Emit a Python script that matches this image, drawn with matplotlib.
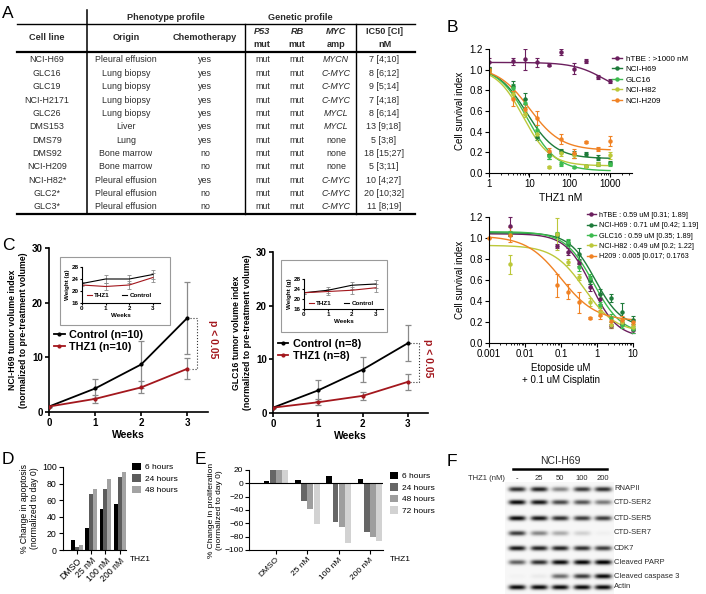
import numpy as np
import matplotlib
matplotlib.use("Agg")
import matplotlib.pyplot as plt
from matplotlib.lines import Line2D
from matplotlib.patches import Rectangle
from matplotlib.ticker import FixedLocator, FormatStrFormatter

plt.rcParams["font.family"] = ["Liberation Sans", "DejaVu Sans"]
plt.rcParams["axes.linewidth"] = 0.8

# ============================================================
# DATA
# ============================================================

# --- A: cell line table
cell_lines = ["NCI-H69", "GLC16", "GLC19", "NCI-H2171", "GLC26", "DMS153",
              "DMS79", "DMS92", "NCI-H209", "NCI-H82*", "GLC2*", "GLC3*"]
origins = ["Pleural effusion", "Lung biopsy", "Lung biopsy", "Lung biopsy",
           "Lung biopsy", "Liver", "Lung", "Bone marrow", "Bone marrow",
           "Pleural effusion", "Pleural effusion", "Pleural effusion"]
chemo = ["yes", "yes", "yes", "yes", "yes", "yes", "yes", "no", "no", "yes", "no", "no"]
p53_status = ["mut"] * 12
rb_status = ["mut"] * 12
myc_amp = ["MYCN", "C-MYC", "C-MYC", "C-MYC", "MYCL", "MYCL", "none", "none",
           "none", "C-MYC", "C-MYC", "C-MYC"]
ic50_ci = ["7 [4;10]", "8 [6;12]", "9 [5;14]", "7 [4;18]", "8 [6;14]", "13 [9;18]",
           "5 [3;8]", "18 [15;27]", "5 [3;11]", "10 [4;27]", "20 [10;32]", "11 [8;19]"]

# --- B top: THZ1 dose response
thz1_conc = [1, 3.9, 7.8, 15.6, 31.25, 62.5, 125, 250, 500, 1000]
b1_names = ["hTBE : >1000 nM", "NCI-H69", "GLC16", "NCI-H82", "NCI-H209"]
b1_htbe = [1.07, 1.08, 1.10, 1.07, 1.05, 1.17, 1.01, 1.08, 0.93, 0.89]
b1_htbe_err = [0.04, 0.03, 0.10, 0.04, 0.01, 0.03, 0.05, 0.02, 0.02, 0.02]
b1_h69 = [1.01, 0.84, 0.72, 0.35, 0.17, 0.21, 0.18, 0.18, 0.15, 0.10]
b1_h69_err = [0.02, 0.05, 0.05, 0.03, 0.03, 0.02, 0.03, 0.02, 0.02, 0.02]
b1_glc16 = [1.00, 0.82, 0.68, 0.42, 0.16, 0.09, 0.06, 0.07, 0.09, 0.09]
b1_glc16_err = [0.02, 0.04, 0.04, 0.04, 0.02, 0.02, 0.01, 0.01, 0.02, 0.02]
b1_h82 = [1.00, 0.76, 0.57, 0.38, 0.06, 0.19, 0.17, 0.07, 0.09, 0.17]
b1_h82_err = [0.02, 0.03, 0.03, 0.03, 0.01, 0.03, 0.02, 0.01, 0.02, 0.03]
b1_h209 = [1.00, 0.72, 0.62, 0.53, 0.21, 0.33, 0.19, 0.30, 0.23, 0.31]
b1_h209_err = [0.02, 0.07, 0.05, 0.07, 0.03, 0.05, 0.04, 0.01, 0.02, 0.05]
# fitted curve parameters (top, bottom, EC50, hill)
b1_fits = [(1.07, 0.75, 720, 1.15), (1.03, 0.14, 8.5, 1.2), (1.03, 0.02, 9, 1.2),
           (1.02, 0.07, 7, 1.3), (1.03, 0.22, 10, 1.1)]

# --- B bottom: etoposide + cisplatin
eto_conc = [0.0039, 0.078, 0.156, 0.3125, 0.625, 1.25, 2.5, 5, 10]
b2_names = ["hTBE : 0.59 uM [0.31; 1.89]", "NCI-H69 : 0.71 uM [0.42; 1.19]",
            "GLC16 : 0.59 uM [0.35; 1.89]", "NCI-H82 : 0.49 uM [0.2; 1.22]",
            "H209 : 0.005 [0.017; 0.1763"]
b2_htbe = [1.11, 0.92, 0.87, 0.76, 0.53, 0.42, 0.16, 0.18, 0.12]
b2_htbe_err = [0.09, 0.02, 0.03, 0.03, 0.03, 0.05, 0.02, 0.02, 0.02]
b2_h69 = [1.04, 1.03, 0.95, 0.85, 0.60, 0.47, 0.43, 0.30, 0.22]
b2_h69_err = [0.02, 0.02, 0.03, 0.05, 0.04, 0.04, 0.04, 0.08, 0.04]
b2_glc16 = [1.05, 1.04, 0.96, 0.72, 0.62, 0.36, 0.24, 0.17, 0.13]
b2_glc16_err = [0.02, 0.02, 0.03, 0.03, 0.04, 0.03, 0.04, 0.03, 0.03]
b2_h82 = [0.75, 1.04, 0.77, 0.63, 0.39, 0.30, 0.17, 0.20, 0.15]
b2_h82_err = [0.09, 0.15, 0.03, 0.03, 0.04, 0.04, 0.03, 0.03, 0.03]
h209_conc = [0.001, 0.0039, 0.078, 0.156, 0.3125, 0.625, 1.25, 2.5, 5, 10]
b2_h209 = [1.00, 1.03, 0.55, 0.49, 0.39, 0.24, 0.27, 0.21, 0.22, 0.20]
b2_h209_err = [0.0, 0.07, 0.11, 0.07, 0.10, 0.01, 0.04, 0.05, 0.04, 0.03]
b2_fits = [(1.04, 0.05, 0.7, 1.2), (1.05, 0.15, 0.9, 1.2), (1.06, 0.08, 0.8, 1.1),
           (0.93, 0.10, 0.45, 1.0), (1.02, 0.21, 0.1, 0.9)]

b_colors = ["#6b1f5e", "#1e7b3a", "#3dbb4f", "#bcc83a", "#f08224"]

# --- C: xenograft tumor volume
weeks = [0, 1, 2, 3]
h69_control = [1.0, 4.3, 8.7, 17.2]
h69_control_err = [0, 1.8, 4.3, 6.5]
h69_thz1 = [1.0, 2.4, 4.5, 7.9]
h69_thz1_err = [0, 0.7, 1.1, 1.9]
glc16_control = [1.0, 4.2, 8.1, 13.0]
glc16_control_err = [0, 1.9, 2.3, 3.4]
glc16_thz1 = [1.0, 2.0, 3.2, 5.8]
glc16_thz1_err = [0, 0.6, 0.8, 1.5]
# inset body weights (g)
h69_w_control = [22.5, 24.0, 24.0, 25.5]
h69_w_thz1 = [22.0, 21.5, 22.0, 24.5]
glc16_w_control = [22.5, 23.5, 25.5, 26.0]
glc16_w_thz1 = [22.5, 23.0, 23.5, 24.5]
weight_err = [0.5, 1.2, 1.3, 1.5]

# --- D: apoptosis
dose_labels = ["DMSO", "25 nM", "100 nM", "200 nM"]
apop_6h = [12, 27, 49, 55]
apop_24h = [4, 68, 74, 88]
apop_48h = [6, 74, 86, 94]

# --- E: proliferation
prol_6h = [3, 5, 11, 7]
prol_24h = [20, -26, -58, -73]
prol_48h = [20, -39, -65, -81]
prol_72h = [20, -61, -89, -86]

# --- F: western blot band intensities (relative)
blot_lanes = ["-", "25", "50", "100", "200"]
blot_proteins = ["RNAPII", "CTD-SER2", "CTD-SER5", "CTD-SER7", "CDK7",
                 "Cleaved PARP", "Cleaved caspase 3", "Actin"]
band_rnapii = [0.80, 0.85, 0.45, 0.75, 0.80]
band_ser2 = [0.95, 0.90, 0.70, 0.65, 0.50]
band_ser5 = [0.95, 0.90, 0.80, 0.75, 0.75]
band_ser7 = [0.75, 0.45, 0.30, 0.15, 0.03]
band_cdk7 = [0.90, 0.85, 0.85, 0.80, 0.75]
band_parp = [0.60, 0.80, 0.95, 0.97, 1.00]
band_casp3 = [0.02, 0.05, 0.55, 0.75, 0.95]
band_actin = [0.95, 0.95, 0.95, 0.95, 0.95]


def logistic(x, top, bottom, ec50, hill):
    return bottom + (top - bottom) / (1 + (x / ec50) ** hill)


# ============================================================
# FIGURE
# ============================================================

W, H = 706, 594
fig = plt.figure(figsize=(W / 100, H / 100), dpi=100)


def px_axes(x0, y0, x1, y1):
    return fig.add_axes([x0 / W, 1 - y1 / H, (x1 - x0) / W, (y1 - y0) / H])


def prism_style(ax, lw=0.8, size=7, bold=False):
    ax.spines["top"].set_visible(False)
    ax.spines["right"].set_visible(False)
    for s in ("left", "bottom"):
        ax.spines[s].set_linewidth(lw)
    ax.tick_params(direction="out", length=3, width=lw, labelsize=size, pad=1.5)
    if bold:
        for lbl in ax.get_xticklabels() + ax.get_yticklabels():
            lbl.set_fontweight("bold")


# ------------------------------------------------------------
# B top
# ------------------------------------------------------------
axb1 = px_axes(489, 49, 632, 173)
b1_series = [(b1_htbe, b1_htbe_err), (b1_h69, b1_h69_err), (b1_glc16, b1_glc16_err),
             (b1_h82, b1_h82_err), (b1_h209, b1_h209_err)]
xs1 = np.logspace(0, 3, 200)
for (vals, errs), fit, col in zip(b1_series, b1_fits, b_colors):
    axb1.errorbar(thz1_conc, vals, yerr=errs, fmt="o", ms=2.2, color=col,
                  elinewidth=0.8, capsize=1.5, capthick=0.8)
    axb1.plot(xs1, logistic(xs1, *fit), color=col, lw=1)
axb1.set_xscale("log")
axb1.set_xlim(1, 3500)
axb1.set_ylim(0, 1.2)
axb1.xaxis.set_major_locator(FixedLocator([1, 10, 100, 1000]))
axb1.set_xticklabels(["1", "10", "100", "1000"])
axb1.set_yticks(np.arange(0, 1.21, 0.2))
axb1.yaxis.set_major_formatter(FormatStrFormatter("%.1f"))
prism_style(axb1)
axb1.tick_params(which="minor", length=1.5, width=0.6)
axb1.set_xlabel("THZ1 nM", fontsize=7.5, labelpad=3)
axb1.set_ylabel("Cell survival index", fontsize=7, labelpad=3)
handles = [Line2D([], [], color=c, marker="o", ms=2.2, lw=1) for c in b_colors]
axb1.legend(handles, b1_names, loc="upper left", bbox_to_anchor=(0.86, 0.95),
            frameon=False, fontsize=5.8, handlelength=1.2, handletextpad=0.5,
            labelspacing=0.35, borderpad=0, borderaxespad=0)

# ------------------------------------------------------------
# B bottom
# ------------------------------------------------------------
axb2 = px_axes(489, 217, 633, 343)
b2_series = [(eto_conc, b2_htbe, b2_htbe_err), (eto_conc, b2_h69, b2_h69_err),
             (eto_conc, b2_glc16, b2_glc16_err), (eto_conc, b2_h82, b2_h82_err),
             (h209_conc, b2_h209, b2_h209_err)]
xs2 = np.logspace(-3, 1, 200)
for (xc, vals, errs), fit, col in zip(b2_series, b2_fits, b_colors):
    axb2.errorbar(xc, vals, yerr=errs, fmt="o", ms=2.2, color=col,
                  elinewidth=0.8, capsize=1.5, capthick=0.8, clip_on=False)
    axb2.plot(xs2, logistic(xs2, *fit), color=col, lw=1)
axb2.set_xscale("log")
axb2.set_xlim(0.001, 10)
axb2.set_ylim(0, 1.2)
axb2.xaxis.set_major_locator(FixedLocator([0.001, 0.01, 0.1, 1, 10]))
axb2.set_xticklabels(["0.001", "0.01", "0.1", "1", "10"])
axb2.set_yticks(np.arange(0, 1.21, 0.2))
axb2.yaxis.set_major_formatter(FormatStrFormatter("%.1f"))
prism_style(axb2)
axb2.tick_params(which="minor", length=1.5, width=0.6)
axb2.set_xlabel("Etoposide uM\n+ 0.1 uM Cisplatin", fontsize=7, labelpad=3)
axb2.set_ylabel("Cell survival index", fontsize=7, labelpad=3)
axb2.legend(handles, b2_names, loc="upper left", bbox_to_anchor=(0.68, 1.04),
            frameon=False, fontsize=5.2, handlelength=1.2, handletextpad=0.5,
            labelspacing=0.45, borderpad=0, borderaxespad=0)

# ------------------------------------------------------------
# C tumor growth
# ------------------------------------------------------------
THZ_RED = "#a3171d"


def tumor_panel(rect, ctrl, ctrl_err, thz, thz_err, n, name, br_x, txt_x, leg_y):
    ax = px_axes(*rect)
    ax.errorbar(weeks, ctrl, yerr=ctrl_err, color="black", lw=1.3, marker="o", ms=2,
                ecolor="#8a8a8a", elinewidth=0.9, capsize=2, capthick=0.9, zorder=3)
    ax.errorbar(weeks, thz, yerr=thz_err, color=THZ_RED, lw=1.3, marker="o", ms=2,
                ecolor="#8a8a8a", elinewidth=0.9, capsize=2, capthick=0.9, zorder=3)
    ax.plot([3.05, br_x, br_x, 3.05], [ctrl[-1], ctrl[-1], thz[-1], thz[-1]],
            ls=":", color="#333333", lw=0.8, clip_on=False)
    ax.text(txt_x, (ctrl[-1] + thz[-1]) / 2 + 0.8, "p < 0.05", rotation=270,
            color=THZ_RED, fontweight="bold", fontsize=7.5, ha="center", va="center",
            clip_on=False)
    ax.set_xlim(0, 3.45)
    ax.set_ylim(0, 30)
    ax.set_xticks(weeks)
    ax.set_yticks([0, 10, 20, 30])
    prism_style(ax, lw=1.2, size=7, bold=True)
    ax.set_xlabel("Weeks", fontsize=7.5, fontweight="bold", labelpad=1)
    ax.set_ylabel(f"{name} tumor volume index\n(normalized to pre-treatment volume)",
                  fontsize=6.3, fontweight="bold", labelpad=3)
    hs = [Line2D([], [], color="black", marker="o", ms=2, lw=1.3),
          Line2D([], [], color=THZ_RED, marker="o", ms=2, lw=1.3)]
    ax.legend(hs, [f"Control (n={n})", f"THZ1 (n={n})"], loc="upper left",
              bbox_to_anchor=(0.03, leg_y), frameon=False, handlelength=1.0,
              handletextpad=0.4, labelspacing=0.15, borderpad=0, borderaxespad=0,
              prop={"size": 7.8, "weight": "bold"})
    return ax


tumor_panel((49, 248, 208, 412), h69_control, h69_control_err, h69_thz1, h69_thz1_err,
            10, "NCI-H69", 3.22, 3.55, 0.50)
tumor_panel((273, 252, 428, 413), glc16_control, glc16_control_err, glc16_thz1,
            glc16_thz1_err, 8, "GLC16", 3.24, 3.45, 0.46)


def weight_inset(rect, ctrl, thz):
    ax = px_axes(*rect)
    ax.errorbar(weeks, ctrl, yerr=weight_err, color="black", lw=0.8,
                ecolor="#8a8a8a", elinewidth=0.6, capsize=1.2, capthick=0.6)
    ax.errorbar(weeks, thz, yerr=weight_err, color=THZ_RED, lw=0.8,
                ecolor="#8a8a8a", elinewidth=0.6, capsize=1.2, capthick=0.6)
    ax.set_xlim(0, 3.3)
    ax.set_ylim(16, 28)
    ax.set_xticks(weeks)
    ax.set_yticks([16, 20, 24, 28])
    prism_style(ax, lw=0.8, size=4.5, bold=True)
    ax.tick_params(length=1.5, pad=0.8)
    ax.set_xlabel("Weeks", fontsize=4.5, fontweight="bold", labelpad=1)
    ax.set_ylabel("Weight (g)", fontsize=4.5, fontweight="bold", labelpad=1)
    hs = [Line2D([], [], color=THZ_RED, lw=0.8), Line2D([], [], color="black", lw=0.8)]
    ax.legend(hs, ["THZ1", "Control"], loc="center left", bbox_to_anchor=(0.06, 0.2),
              ncol=2, frameon=False, handlelength=0.8, handletextpad=0.4,
              columnspacing=2.0, borderpad=0, borderaxespad=0,
              prop={"size": 4.5, "weight": "bold"})


weight_inset((82, 267, 160, 303), h69_w_control, h69_w_thz1)
weight_inset((304, 279, 383, 309), glc16_w_control, glc16_w_thz1)

# ------------------------------------------------------------
# D apoptosis
# ------------------------------------------------------------
axd = px_axes(63, 467, 126, 550)
xd = np.arange(len(dose_labels))
bw = 0.28
d_colors = ["#000000", "#5c5c5c", "#a3a3a3"]
for i, (vals, col, lab) in enumerate(zip([apop_6h, apop_24h, apop_48h], d_colors,
                                         ["6 hours", "24 hours", "48 hours"])):
    axd.bar(xd + (i - 1) * bw, vals, width=bw, color=col, label=lab)
axd.set_xlim(-1.0, 3.45)
axd.set_ylim(0, 100)
axd.set_yticks(range(0, 101, 20))
axd.set_xticks(xd)
axd.set_xticklabels(dose_labels, rotation=45, ha="right", rotation_mode="anchor")
prism_style(axd, size=6.3)
axd.set_ylabel("% Change in apoptosis\n(normalized to day 0)", fontsize=6.2, labelpad=2)
axd.legend(loc="upper left", bbox_to_anchor=(1.1, 1.05), frameon=False, fontsize=6,
           handlelength=1.0, handleheight=1.0, handletextpad=0.5, labelspacing=0.35,
           borderpad=0, borderaxespad=0)
axd.text(1.06, -0.12, "THZ1", transform=axd.transAxes, fontsize=6, va="center")

# ------------------------------------------------------------
# E proliferation
# ------------------------------------------------------------
axe = px_axes(249, 470, 383, 550)
bw = 0.2
e_colors = ["#000000", "#666666", "#9e9e9e", "#d2d2d2"]
for i, (vals, col, lab) in enumerate(zip([prol_6h, prol_24h, prol_48h, prol_72h], e_colors,
                                         ["6 hours", "24 hours", "48 hours", "72 hours"])):
    axe.bar(xd + (i - 1.5) * bw, vals, width=bw * 0.92, color=col, label=lab)
axe.axhline(0, color="black", lw=0.8)
axe.set_xlim(-0.86, 3.42)
axe.set_ylim(-100, 20)
axe.set_yticks(range(-100, 21, 20))
axe.set_xticks(xd)
axe.set_xticklabels(dose_labels, rotation=45, ha="right", rotation_mode="anchor")
prism_style(axe, size=6.0)
axe.tick_params(axis="y", pad=1)
axe.set_ylabel("% Change in proliferation\n(normalized to day 0)", fontsize=6.0, labelpad=1)
axe.legend(loc="upper left", bbox_to_anchor=(1.05, 0.98), frameon=False, fontsize=6,
           handlelength=1.0, handleheight=1.0, handletextpad=0.5, labelspacing=0.35,
           borderpad=0, borderaxespad=0)
axe.text(1.05, -0.12, "THZ1", transform=axe.transAxes, fontsize=6, va="center")

# ------------------------------------------------------------
# F western blot
# ------------------------------------------------------------
bands = np.array([band_rnapii, band_ser2, band_ser5, band_ser7, band_cdk7,
                  band_parp, band_casp3, band_actin])
lane_x = [517, 539, 560, 582, 603]
row_y = [489, 502, 518, 533, 548, 562, 576, 587]
gx, gy = np.meshgrid(np.arange(505, 614, 0.5), np.arange(482, 594, 0.5))
blot = np.full(gx.shape, 0.03)
for r, yy in enumerate(row_y):
    for l, xx in enumerate(lane_x):
        blot += bands[r, l] * np.exp(-((gx - xx) / 8.5) ** 4) * np.exp(-((gy - yy) / 2.4) ** 2)
axf = px_axes(505, 482, 614, 594)
axf.imshow(blot, extent=(505, 614, 594, 482), aspect="auto", cmap="gray_r",
           vmin=0, vmax=1.0, interpolation="bilinear")
axf.axis("off")

# ------------------------------------------------------------
# Overlay: table A, panel letters, blot labels, inset boxes
# ------------------------------------------------------------
ov = fig.add_axes([0, 0, 1, 1])
ov.set_xlim(0, W)
ov.set_ylim(H, 0)
ov.axis("off")

for letter, (lx, ly) in zip("ABCDEF", [(8, 14), (452, 27), (8, 246), (8, 459),
                                      (200, 459), (452, 462)]):
    ov.text(lx, ly, letter, fontsize=12.5, ha="center", va="center")

TXT = "#2b2b2b"
ov.plot([87, 87], [10, 214], color="black", lw=1.1)
ov.plot([17, 415], [24, 24], color="black", lw=1.0)
ov.plot([17, 415], [51.5, 51.5], color="black", lw=1.6)
ov.plot([245, 245], [24, 214], color="black", lw=1.0)
ov.plot([356, 356], [24, 214], color="black", lw=1.0)
ov.plot([17, 415], [214, 214], color="black", lw=1.6)

hdr = dict(fontsize=6.6, fontweight="bold", ha="center", va="center", color=TXT)
ov.text(166, 17, "Phenotype profile", **hdr)
ov.text(300, 17, "Genetic profile", **hdr)
ov.text(47, 38, "Cell line", **hdr)
ov.text(126, 38, "Origin", **hdr)
ov.text(205, 38, "Chemotherapy", **hdr)
for cx, top, bottom in [(262, "P53", "mut"), (297, "RB", "mut"), (336, "MYC", "amp")]:
    ov.text(cx, 31, top, fontstyle="italic", **hdr)
    ov.text(cx, 44.5, bottom, **hdr)
ov.text(385, 31, "IC50 [CI]", **hdr)
ov.text(385, 44.5, "nM", **hdr)

cell = dict(fontsize=6.4, ha="center", va="center", color=TXT)
for i in range(len(cell_lines)):
    ry = 60 + i * 13.35
    ov.text(47, ry, cell_lines[i], **cell)
    ov.text(126, ry, origins[i], **cell)
    ov.text(205, ry, chemo[i], **cell)
    ov.text(263, ry, p53_status[i], **cell)
    ov.text(297, ry, rb_status[i], **cell)
    ov.text(336, ry, myc_amp[i], fontstyle="normal" if myc_amp[i] == "none" else "italic",
            **cell)
    ov.text(384, ry, ic50_ci[i], **cell)

# inset frames in C
ov.add_patch(Rectangle((60, 257), 110, 68, fill=False, ec="#9a9a9a", lw=0.8))
ov.add_patch(Rectangle((281, 260), 106, 72, fill=False, ec="#9a9a9a", lw=0.8))

# blot annotations
ov.text(560, 461, "NCI-H69", fontsize=7.5, ha="center", va="center", color=TXT)
ov.plot([513, 607], [469, 469], color="black", lw=1.8)
ov.text(505, 479, "THZ1 (nM)", fontsize=5.5, ha="right", va="center", color=TXT)
for xx, lab in zip(lane_x, blot_lanes):
    ov.text(xx, 479, lab, fontsize=5.5, ha="center", va="center", color=TXT)
for yy, lab in zip(row_y, blot_proteins):
    ov.text(614, yy, lab, fontsize=5.5, ha="left", va="center", color=TXT)

fig.savefig("out.png", dpi=100)
